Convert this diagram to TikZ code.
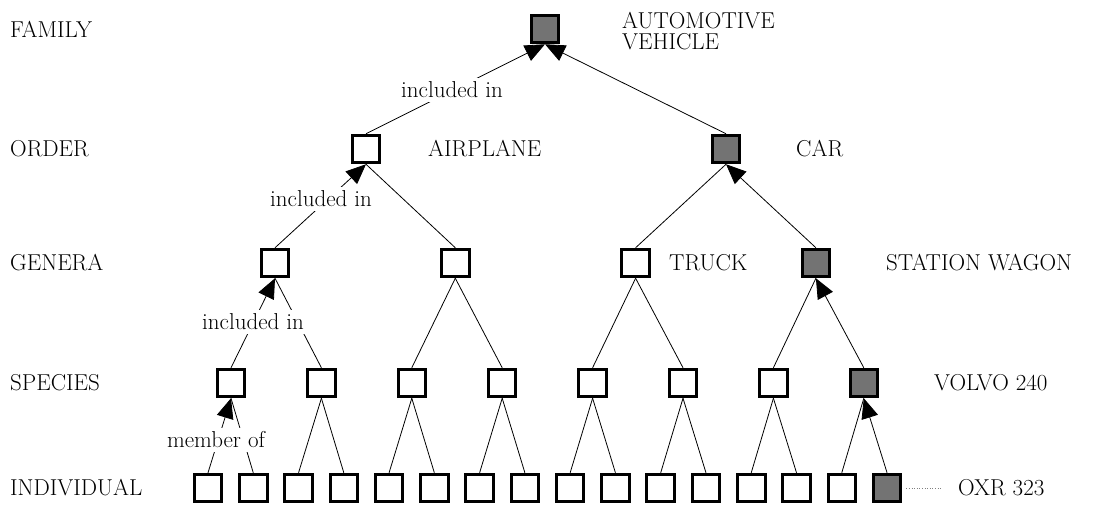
\documentclass[tikz,border=0pt]{standalone}
\usepackage{fontspec}
\usetikzlibrary{arrows.meta,positioning}

\begin{document}
\begin{tikzpicture}[
    x=1pt, y=-1pt,
    font=\fontsize{23}{21}\selectfont,
    box/.style={rectangle, draw, line width=3pt, fill=white, minimum size=27.5pt, inner sep=0pt},
    hbox/.style={box, fill=black!55},
    link/.style={line width=0.8pt},
    arrow/.style={link, -{Triangle[length=20pt,width=17pt]}},
    levelname/.style={anchor=west, inner sep=0pt},
    tag/.style={anchor=west, inner sep=0pt, align=left},
    rel/.style={fill=white, inner xsep=1pt, inner ysep=4pt}
]
\useasboundingbox (0,0) rectangle (1102,506);

% rank names on the left
\node[levelname] (nfam) at (10,29) {FAMILY};
\node[levelname] (nord) at (10,149) {ORDER};
\node[levelname] (ngen) at (10,263) {GENERA};
\node[levelname] (nspc) at (10,383) {SPECIES};
\node[levelname] (nind) at (10,488) {INDIVIDUAL};

% the tree, one row per rank
\node[hbox] (fam) at (545,29) {};
\foreach \i/\st in {1/box,2/hbox}
    \node[\st] (ord\i) at ({366+360*(\i-1)},149) {};
\foreach \i/\st in {1/box,2/box,3/box,4/hbox}
    \node[\st] (gen\i) at ({275+180.3*(\i-1)},263) {};
\foreach \i/\st in {1/box,2/box,3/box,4/box,5/box,6/box,7/box,8/hbox}
    \node[\st] (spc\i) at ({231+90.4*(\i-1)},383) {};
\foreach \i/\st in {1/box,2/box,3/box,4/box,5/box,6/box,7/box,8/box,
                    9/box,10/box,11/box,12/box,13/box,14/box,15/box,16/hbox}
    \node[\st] (ind\i) at ({208+45.27*(\i-1)},488) {};

% names of the marked boxes
\node[tag] (tauto) at (622,31) {AUTOMOTIVE\\VEHICLE};
\node[tag] (tair) at (428,149) {AIRPLANE};
\node[tag] (tcar) at (796,149) {CAR};
\node[tag] (ttruck) at (669,263) {TRUCK};
\node[tag] (twagon) at (886,263) {STATION WAGON};
\node[tag] (tvolvo) at (934,383) {VOLVO 240};
\node[tag] (toxr) at (958,488) {OXR 323};

% links between ranks
\foreach \c/\p/\st in {ord1/fam/arrow, ord2/fam/arrow,
                       gen1/ord1/arrow, gen2/ord1/link, gen3/ord2/link, gen4/ord2/arrow,
                       spc1/gen1/arrow, spc2/gen1/link, spc3/gen2/link, spc4/gen2/link,
                       spc5/gen3/link, spc6/gen3/link, spc7/gen4/link, spc8/gen4/arrow}
    \draw[\st] (\c.north) -- (\p.south);
\foreach \c/\p/\st in {ind1/spc1/arrow, ind2/spc1/link, ind3/spc2/link, ind4/spc2/link,
                       ind5/spc3/link, ind6/spc3/link, ind7/spc4/link, ind8/spc4/link,
                       ind9/spc5/link, ind10/spc5/link, ind11/spc6/link, ind12/spc6/link,
                       ind13/spc7/link, ind14/spc7/link, ind15/spc8/link, ind16/spc8/arrow}
    \draw[\st] (\c.north) -- (\p.south);
\draw[dotted, gray, line width=0.6pt] ([xshift=4pt]ind16.east) -- ([xshift=-17pt]toxr.west);

% relation labels
\node[rel] (inc1) at (452,90) {included in};
\node[rel] (inc2) at (321,199) {included in};
\node[rel] (inc3) at (253,322) {included in};
\node[rel] (mem) at (216,440) {member of};
\end{tikzpicture}
\end{document}
